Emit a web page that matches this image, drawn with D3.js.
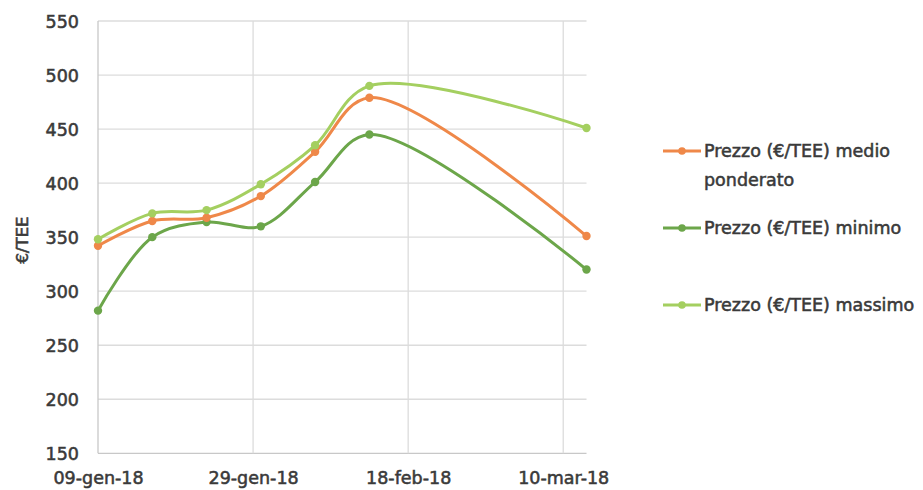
<!DOCTYPE html>
<html>
<head>
<meta charset="utf-8">
<script src="https://cdn.jsdelivr.net/npm/d3@7"></script>
<style>
  html, body { margin: 0; padding: 0; background: #ffffff; }
  svg { display: block; }
  text { font-family: "DejaVu Sans", sans-serif; font-weight: normal; fill: #3a3a3a; stroke: #3a3a3a; stroke-width: 0.55px; }
</style>
</head>
<body>
<svg id="chart" width="923" height="490"></svg>
<script>
// ---- data ----
const dates = ["2018-01-09", "2018-01-16", "2018-01-23", "2018-01-30", "2018-02-06", "2018-02-13", "2018-03-13"];
const medio = [342, 365, 368, 388, 429, 479, 351];
const minimo = [282, 350, 364, 360, 401, 445, 320];
const massimo = [348, 372, 375, 399, 435, 490, 451];
const seriesNames = ["Prezzo (€/TEE) medio ponderato", "Prezzo (€/TEE) minimo", "Prezzo (€/TEE) massimo"];
const xTickDates = ["2018-01-09", "2018-01-29", "2018-02-18", "2018-03-10"];
const xTickLabels = ["09-gen-18", "29-gen-18", "18-feb-18", "10-mar-18"];
const yTicks = [150, 200, 250, 300, 350, 400, 450, 500, 550];
const yLabel = "€/TEE";

const parse = d3.timeParse("%Y-%m-%d");
const colors = ["#EF8849", "#6CA64A", "#A4CF60"];
const series = [
  { name: seriesNames[0], values: medio, color: colors[0] },
  { name: seriesNames[1], values: minimo, color: colors[1] },
  { name: seriesNames[2], values: massimo, color: colors[2] }
];

const svg = d3.select("#chart");
const x = d3.scaleTime()
  .domain([parse("2018-01-09"), parse("2018-03-13")])
  .range([98, 586.5]);
const y = d3.scaleLinear().domain([150, 550]).range([453.3, 21]);

// gridlines
const grid = svg.append("g");
grid.selectAll("line.h").data(yTicks).enter().append("line")
  .attr("x1", 98).attr("x2", 586.5)
  .attr("y1", d => y(d)).attr("y2", d => y(d))
  .attr("stroke", d => d === 150 ? "#c8c8c8" : "#dcdcdc").attr("stroke-width", 1.3);
grid.selectAll("line.v").data(xTickDates).enter().append("line")
  .attr("x1", d => x(parse(d))).attr("x2", d => x(parse(d)))
  .attr("y1", y(550)).attr("y2", y(150))
  .attr("stroke", (d, i) => i === 0 ? "#c8c8c8" : "#dcdcdc").attr("stroke-width", 1.3);

// y axis labels
const yAxis = d3.axisLeft(y).tickValues(yTicks).tickSize(0).tickPadding(0);
const gy = svg.append("g").attr("transform", "translate(79,0)").call(yAxis);
gy.select(".domain").remove();
gy.selectAll("text").style("font-size", "17.5px").attr("dy", "0.35em").attr("x", 0);

// x axis labels
const xAxis = d3.axisBottom(x)
  .tickValues(xTickDates.map(parse))
  .tickFormat((d, i) => xTickLabels[i])
  .tickSize(0).tickPadding(0);
const gx = svg.append("g").attr("transform", "translate(0,472)").call(xAxis);
gx.select(".domain").remove();
gx.selectAll("text").style("font-size", "17.5px").attr("dy", "0.35em").attr("y", 6);

// y axis title
svg.append("text")
  .attr("transform", "translate(22,240) rotate(-90)")
  .attr("text-anchor", "middle").attr("dy", "0.35em")
  .style("font-size", "16.5px")
  .text(yLabel);

// lines
const line = d3.line()
  .x((d, i) => x(parse(dates[i])))
  .y(d => y(d))
  .curve(d3.curveCatmullRom.alpha(0.5));

const order = [1, 0, 2];
order.forEach(k => {
  const s = series[k];
  svg.append("path").datum(s.values)
    .attr("d", line).attr("fill", "none")
    .attr("stroke", s.color).attr("stroke-width", 3)
    .attr("stroke-linecap", "round");
  svg.append("g").selectAll("circle").data(s.values).enter().append("circle")
    .attr("cx", (d, i) => x(parse(dates[i])))
    .attr("cy", d => y(d))
    .attr("r", 4.2)
    .attr("fill", s.color);
});

// legend
const legendRows = [
  { s: series[0], y: 151, lines: ["Prezzo (€/TEE) medio", "ponderato"] },
  { s: series[1], y: 228, lines: ["Prezzo (€/TEE) minimo"] },
  { s: series[2], y: 305, lines: ["Prezzo (€/TEE) massimo"] }
];
const lg = svg.append("g");
legendRows.forEach(r => {
  lg.append("line").attr("x1", 663).attr("x2", 701)
    .attr("y1", r.y).attr("y2", r.y)
    .attr("stroke", r.s.color).attr("stroke-width", 3);
  lg.append("circle").attr("cx", 682).attr("cy", r.y).attr("r", 3.8).attr("fill", r.s.color);
  r.lines.forEach((t, j) => {
    lg.append("text").attr("x", 704).attr("y", r.y + j * 29)
      .attr("dy", "0.35em").style("font-size", "17.5px").text(t);
  });
});
</script>
</body>
</html>
